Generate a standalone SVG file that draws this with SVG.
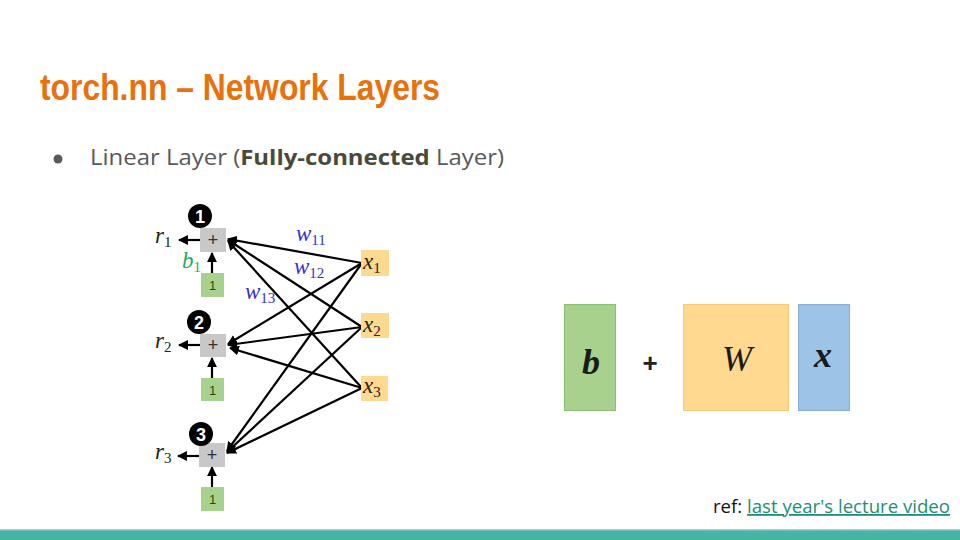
<svg xmlns="http://www.w3.org/2000/svg" width="960" height="540" viewBox="0 0 960 540">
  <defs>
    <marker id="arr" viewBox="0 0 10 10" refX="9" refY="5" markerWidth="4.5" markerHeight="4.5" orient="auto" markerUnits="strokeWidth">
      <path d="M0,0 L10,5 L0,10 z" fill="#000"/>
    </marker>
    <style>
      .title{font-family:"Liberation Sans",Arial,sans-serif;font-weight:bold;font-size:36px;fill:#E8710A}
      .body{font-family:"Open Sans","Noto Sans",sans-serif;font-size:22px;fill:#595959}
      .circ{fill:#000}
      .cnum{font-family:"Liberation Sans",Arial,sans-serif;font-weight:bold;font-size:18px;fill:#fff;text-anchor:middle}
      .plus{fill:#c8c8c8}
      .ptxt{font-family:"Liberation Sans",Arial,sans-serif;font-size:18px;fill:#333;text-anchor:middle}
      .one{fill:#a9d18e}
      .otxt{font-family:"Liberation Sans",Arial,sans-serif;font-size:13px;fill:#1d4d12;text-anchor:middle}
      .xbox{fill:#ffd98f}
      .math{font-family:"Liberation Serif","Times New Roman",serif;font-style:italic;font-size:23px;fill:#222}
      .sub{font-style:normal;font-size:15px}
      .wlab{font-family:"Liberation Serif","Times New Roman",serif;font-style:italic;font-size:23px;fill:#3333cc}
      .edge{stroke:#000;stroke-width:2.2;fill:none;marker-end:url(#arr)}
      .big{font-family:"Liberation Serif","Times New Roman",serif;font-style:italic;font-weight:bold;font-size:36px;fill:#1a1a1a;text-anchor:middle}
    </style>
  </defs>

  <rect width="960" height="540" fill="#fff"/>

  <!-- heading -->
  <text class="title" x="40" y="100" textLength="400" lengthAdjust="spacingAndGlyphs">torch.nn – Network Layers</text>

  <!-- bullet -->
  <circle cx="58" cy="159" r="4.5" fill="#595959"/>
  <text class="body" x="90" y="165" textLength="414" lengthAdjust="spacingAndGlyphs">Linear Layer (<tspan font-weight="bold" fill="#4a4a3c">Fully-connected</tspan> Layer)</text>

  <!-- connectors -->
  <g id="connectors">
    <line class="edge" x1="362" y1="263" x2="228" y2="239"/>
    <line class="edge" x1="362" y1="327" x2="228" y2="240"/>
    <line class="edge" x1="362" y1="388" x2="228" y2="241"/>
    <line class="edge" x1="362" y1="263" x2="228" y2="344"/>
    <line class="edge" x1="362" y1="327" x2="228" y2="345"/>
    <line class="edge" x1="362" y1="388" x2="230" y2="348"/>
    <line class="edge" x1="362" y1="263" x2="227" y2="451"/>
    <line class="edge" x1="362" y1="327" x2="227" y2="452"/>
    <line class="edge" x1="362" y1="388" x2="227" y2="453"/>
    <!-- outputs -->
    <line class="edge" x1="200" y1="240" x2="179" y2="240"/>
    <line class="edge" x1="200" y1="345" x2="179" y2="345"/>
    <line class="edge" x1="199" y1="456" x2="178" y2="456"/>
    <!-- bias inputs -->
    <line class="edge" x1="212" y1="273" x2="212" y2="253"/>
    <line class="edge" x1="212" y1="378" x2="212" y2="358"/>
    <line class="edge" x1="212" y1="487" x2="212" y2="467"/>
  </g>

  <!-- weight labels -->
  <text class="wlab" x="296" y="241">w<tspan class="sub" dy="4">11</tspan></text>
  <text class="wlab" x="294" y="274">w<tspan class="sub" dy="4">12</tspan></text>
  <text class="wlab" x="245" y="299">w<tspan class="sub" dy="4">13</tspan></text>

  <!-- neuron 1 -->
  <g id="neuron1">
    <rect class="plus" x="200" y="228" width="26" height="24"/>
    <text class="ptxt" x="213" y="246">+</text>
    <circle class="circ" cx="200" cy="216" r="12"/>
    <text class="cnum" x="200" y="222.5">1</text>
    <text class="math" x="155" y="243">r<tspan class="sub" dy="4">1</tspan></text>
  </g>
  <g id="bias1">
    <rect class="one" x="201" y="273" width="23" height="24"/>
    <text class="otxt" x="212.5" y="290">1</text>
    <text class="math" x="182" y="268" style="fill:#1faa5c">b<tspan class="sub" dy="4">1</tspan></text>
  </g>

  <!-- neuron 2 -->
  <g id="neuron2">
    <rect class="plus" x="200" y="334" width="26" height="23"/>
    <text class="ptxt" x="213" y="351">+</text>
    <circle class="circ" cx="199" cy="322" r="12"/>
    <text class="cnum" x="199" y="328.5">2</text>
    <text class="math" x="155" y="348">r<tspan class="sub" dy="4">2</tspan></text>
  </g>
  <g id="bias2">
    <rect class="one" x="201" y="378" width="23" height="23"/>
    <text class="otxt" x="212.5" y="394.5">1</text>
  </g>

  <!-- neuron 3 -->
  <g id="neuron3">
    <rect class="plus" x="199" y="443" width="26" height="24"/>
    <text class="ptxt" x="212" y="461">+</text>
    <circle class="circ" cx="201" cy="434" r="12"/>
    <text class="cnum" x="201" y="440.5">3</text>
    <text class="math" x="155" y="459">r<tspan class="sub" dy="4">3</tspan></text>
  </g>
  <g id="bias3">
    <rect class="one" x="201" y="487" width="23" height="24"/>
    <text class="otxt" x="212.5" y="504">1</text>
  </g>

  <!-- inputs -->
  <g id="x1">
    <rect class="xbox" x="361" y="250" width="28" height="26"/>
    <text class="math" x="363" y="269">x<tspan class="sub" dy="4">1</tspan></text>
  </g>
  <g id="x2">
    <rect class="xbox" x="361" y="313" width="28" height="25"/>
    <text class="math" x="363" y="332">x<tspan class="sub" dy="4">2</tspan></text>
  </g>
  <g id="x3">
    <rect class="xbox" x="361" y="376" width="27" height="25"/>
    <text class="math" x="363" y="393">x<tspan class="sub" dy="4">3</tspan></text>
  </g>

  <!-- matrix form -->
  <g id="vec-b">
    <rect x="564.5" y="304.5" width="51" height="106" fill="#a9d18e" stroke="#8cbf72" stroke-width="1"/>
    <text class="big" x="591" y="374">b</text>
  </g>
  <text x="650" y="372" font-family="Liberation Sans,Arial,sans-serif" font-weight="bold" font-size="26" fill="#222" text-anchor="middle">+</text>
  <g id="mat-W">
    <rect x="683.5" y="304.5" width="105" height="106" fill="#ffd98f" stroke="#f5c97a" stroke-width="1"/>
    <text class="big" x="737" y="371" style="font-weight:normal">W</text>
  </g>
  <g id="vec-x">
    <rect x="798.5" y="304.5" width="51" height="106" fill="#9dc3e6" stroke="#86b0d8" stroke-width="1"/>
    <text class="big" x="823" y="367">x</text>
  </g>

  <!-- reference -->
  <text x="713" y="513" font-family="Open Sans,Noto Sans,sans-serif" font-size="18" fill="#111" textLength="237" lengthAdjust="spacingAndGlyphs">ref: <tspan fill="#1e8f74" text-decoration="underline">last year's lecture video</tspan></text>

  <!-- footer bar -->
  <rect x="0" y="529" width="960" height="11" fill="#45b4a4"/>
  <rect x="0" y="529" width="960" height="1.5" fill="#9fd0cc"/>
</svg>
